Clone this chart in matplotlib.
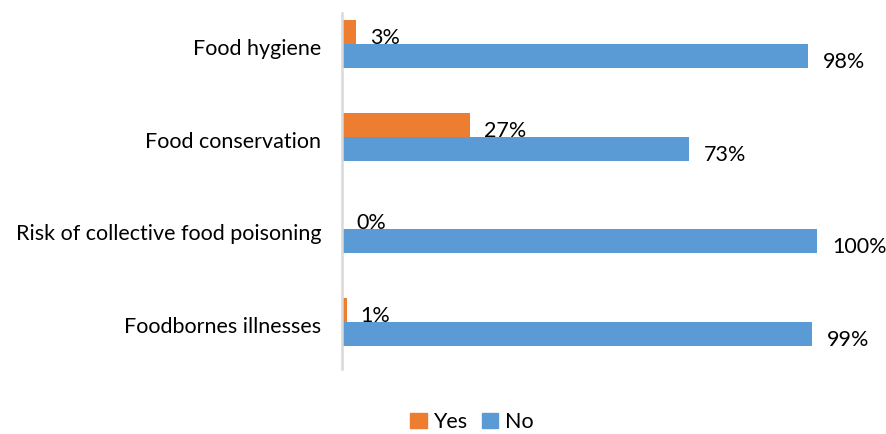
import matplotlib
matplotlib.use("Agg")
import matplotlib.pyplot as plt
import matplotlib.transforms as mtransforms
from matplotlib.patches import Patch

categories = ["Food hygiene", "Food conservation",
              "Risk of collective food poisoning", "Foodbornes illnesses"]
yes_values = [3, 27, 0, 1]
no_values = [98, 73, 100, 99]

YES_COLOR = "#ED7D31"
NO_COLOR = "#5B9BD5"
FONT = "Lato"
FS = 15.5

W, H = 886, 434
fig = plt.figure(figsize=(W / 100, H / 100), dpi=100)
# axes spans pixel x 342..886, y 13..369
ax = fig.add_axes([342 / W, 1 - 369 / H, (W - 342) / W, (369 - 13) / H])

px_per_unit = 4.75
ax.set_xlim(0, (W - 342) / px_per_unit)
cat_gap = 93.0
ax.set_ylim((369 - 322) / cat_gap + 3, (13 - 44) / cat_gap)

bh = 24 / cat_gap
ys = list(range(len(categories)))
ax.barh([y - bh / 2 for y in ys], yes_values, height=bh, color=YES_COLOR)
ax.barh([y + bh / 2 for y in ys], no_values, height=bh, color=NO_COLOR)

for y, v in zip(ys, yes_values):
    ax.annotate(f"{v}%", (v, y - bh / 2), xytext=(14, -6), textcoords="offset pixels",
                ha="left", va="center", fontsize=FS, family=FONT, color="#000000")
for y, v in zip(ys, no_values):
    ax.annotate(f"{v}%", (v, y + bh / 2), xytext=(15, -6), textcoords="offset pixels",
                ha="left", va="center", fontsize=FS, family=FONT, color="#000000")

ax.set_yticks(ys)
ax.set_yticklabels(categories, fontsize=FS, family=FONT)
ax.tick_params(axis="y", length=0, pad=15)
shift = mtransforms.ScaledTranslation(0, -3 / 100, fig.dpi_scale_trans)
for lbl in ax.get_yticklabels():
    lbl.set_transform(lbl.get_transform() + shift)
ax.set_xticks([])
for s in ["top", "right", "bottom"]:
    ax.spines[s].set_visible(False)
ax.spines["left"].set_color("#D9D9D9")
ax.spines["left"].set_linewidth(1.8)

handles = [Patch(color=YES_COLOR, label="Yes"), Patch(color=NO_COLOR, label="No")]
fig.legend(handles=handles, loc="center", bbox_to_anchor=(472 / W, 1 - 422 / H),
           ncol=2, frameon=False, prop={"family": FONT, "size": FS},
           handlelength=0.75, handleheight=0.75, handletextpad=0.3, columnspacing=0.7)

fig.savefig("out.png", dpi=100)
